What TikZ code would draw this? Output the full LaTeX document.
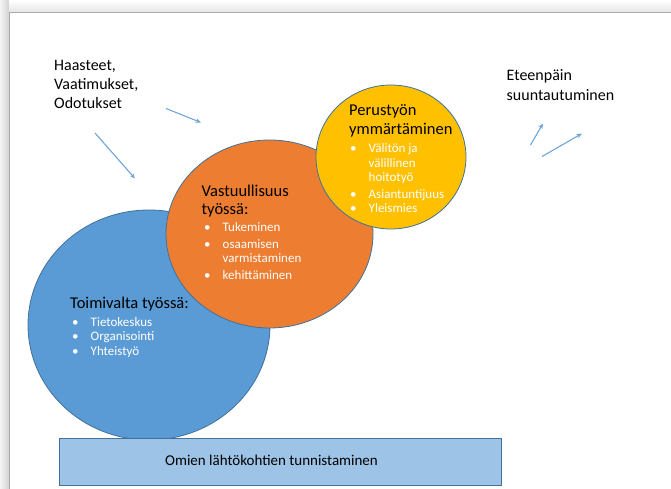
\documentclass[tikz,border=0pt]{standalone}
\usepackage{fontspec}
\setmainfont{Carlito}
\usetikzlibrary{arrows.meta,shapes.geometric}
\definecolor{cblue}{HTML}{5B9BD5}
\definecolor{corange}{HTML}{ED7D31}
\definecolor{cyellow}{HTML}{FFC000}
\definecolor{crect}{HTML}{9DC3E6}
\definecolor{cedge}{HTML}{41719C}
\definecolor{carrow}{HTML}{6EA6DA}
\newcommand{\bu}{\makebox[18.5pt][l]{\textbullet}}
\newcommand{\ind}{\hspace*{18.5pt}}
\tikzset{
  bubble/.style={ellipse, draw=cedge, line width=0.8pt, inner sep=0pt},
  hd/.style={inner sep=0pt, anchor=base west, font=\fontsize{16.5}{19}\selectfont, text=black},
  bl/.style={inner sep=0pt, anchor=base west, font=\fontsize{13}{14.6}\selectfont, text=white},
  plain/.style={inner sep=0pt, anchor=base west, font=\fontsize{16}{18.8}\selectfont, text=black},
  arr/.style={draw=carrow, line width=1.1pt, -{Stealth[length=5.5pt,width=4.5pt]}}
}
\begin{document}
\begin{tikzpicture}[x=1pt,y=-1pt]
\useasboundingbox (0,0) rectangle (671,489);
% page shadow and page
\shade[left color=gray!8, right color=gray!35] (0,0) rectangle (9,489);
\shade[top color=white, bottom color=gray!20] (9,0) rectangle (671,12);
\fill[white] (9,12) rectangle (671,489);
\draw[gray!65, line width=0.6pt] (9,489) -- (9,12) -- (671,12);

% circles
\node[bubble, fill=cblue, minimum width=242pt, minimum height=230pt] (blue) at (149,325) {};
\node[bubble, fill=corange, minimum width=207pt, minimum height=188pt] (orange) at (269.5,234) {};
\node[bubble, fill=cyellow, minimum width=150pt, minimum height=144pt] (yellow) at (391,157) {};

% bottom box
\node[draw=cedge, fill=crect, line width=0.8pt, minimum width=442pt, minimum height=47pt, inner sep=0pt] (base) at (280.5,461.5) {};
\node[inner sep=0pt, anchor=base, font=\fontsize{15}{18}\selectfont] (baseText) at (271.5,465) {Omien lähtökohtien tunnistaminen};

% blue texts
\node[hd] (blueHead) at (70,308) {\begin{tabular}[t]{@{}l@{}}Toimivalta työssä:\end{tabular}};
\node[bl] (blueList) at (72,326) {\begin{tabular}[t]{@{}l@{}}\bu Tietokeskus\\ \bu Organisointi\\ \bu Yhteistyö\end{tabular}};

% orange texts
\node[hd] (orHead) at (201.5,196.5) {\begin{tabular}[t]{@{}l@{}}Vastuullisuus\\[-1.5pt] työssä:\end{tabular}};
\node[bl] (orList) at (204,231.7) {\begin{tabular}[t]{@{}l@{}}\bu Tukeminen\\[1.8pt] \bu osaamisen\\ \ind varmistaminen\\[2.5pt] \bu kehittäminen\end{tabular}};

% yellow texts
\node[hd] (yHead) at (349,116) {\begin{tabular}[t]{@{}l@{}}Perustyön\\ ymmärtäminen\end{tabular}};
\node[bl] (yList) at (350,152.7) {\begin{tabular}[t]{@{}l@{}}\bu Välitön ja\\ \ind välillinen\\ \ind hoitotyö\\[1.6pt] \bu Asiantuntijuus\\ \bu Yleismies\end{tabular}};

% free texts
\node[plain] (challenges) at (54,71) {\begin{tabular}[t]{@{}l@{}}Haasteet,\\ Vaatimukset,\\ Odotukset\end{tabular}};
\node[plain] (forward) at (506.5,80.7) {\begin{tabular}[t]{@{}l@{}}Eteenpäin\\[1pt] suuntautuminen\end{tabular}};

% arrows
\coordinate (a1s) at (166,108.5);
\coordinate (a1e) at (201,122.5);
\coordinate (a2s) at (95,133);
\coordinate (a2e) at (135,178.5);
\coordinate (a3s) at (530.5,145);
\coordinate (a3e) at (543,123.5);
\coordinate (a4s) at (542,156.5);
\coordinate (a4e) at (582,133.5);
\draw[arr] (a1s) -- (a1e);
\draw[arr] (a2s) -- (a2e);
\draw[arr] (a3s) -- (a3e);
\draw[arr] (a4s) -- (a4e);
\end{tikzpicture}
\end{document}
